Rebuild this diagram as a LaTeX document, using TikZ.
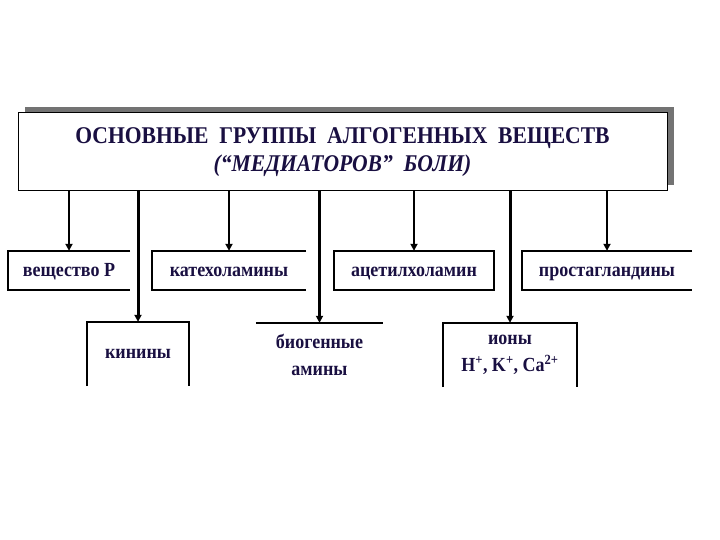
\documentclass[tikz,border=0pt]{standalone}
\usepackage{fontspec}
\setmainfont[FakeStretch=0.9]{Liberation Serif}
\usetikzlibrary{arrows.meta}
\definecolor{ink}{RGB}{25,15,65}

\begin{document}
\begin{tikzpicture}[x=1pt,y=-1pt,
  lbl/.style={font=\bfseries\fontsize{20}{27}\selectfont, text=ink, align=center},
  row/.style={lbl, text height=15pt, text depth=4pt, minimum height=39},
  edge/.style={line width=1.5pt},
  arr/.style={line width=2pt,-{Triangle[length=7pt,width=7pt]}},
  longarr/.style={arr, line width=3pt}]
\useasboundingbox (0,0) rectangle (720,540);
% heading with its shadow
\fill[black!55] (25,107) rectangle (674,185);
\node[draw, line width=1pt, fill=white, minimum width=649, minimum height=78, inner sep=0pt,
  text=ink, align=center, font=\bfseries\fontsize{24}{28}\selectfont] (head) at (342.5,152)
  {ОСНОВНЫЕ\ \ ГРУППЫ\ \ АЛГОГЕННЫХ\ \ ВЕЩЕСТВ\\ \textit{(“МЕДИАТОРОВ”\ \ БОЛИ)}};
% first row
\node[row, minimum width=122] (subp) at (69,270.5) {вещество Р};
\node[row, minimum width=154] (cat) at (229,270.5) {катехоламины};
\node[row, minimum width=160] (ach) at (414,270.5) {ацетилхоламин};
\node[row, minimum width=170] (pg) at (607,270.5) {простагландины};
% second row
\node[lbl, minimum width=102, minimum height=64] (kin) at (138,354) {кинины};
\node[lbl, minimum width=127, minimum height=64] (bio) at (319.5,355) {биогенные\\амины};
\node[lbl, minimum width=134, minimum height=64] (ion) at (510,355)
  {ионы\\H\textsuperscript{+}, K\textsuperscript{+}, Ca\textsuperscript{2+}};
% outlines
\draw[edge] (subp.north east) -- (subp.north west) -- (subp.south west) -- (subp.south east);
\draw[edge] (cat.north east) -- (cat.north west) -- (cat.south west) -- (cat.south east);
\draw[edge] (ach.north west) rectangle (ach.south east);
\draw[edge] (pg.north east) -- (pg.north west) -- (pg.south west) -- (pg.south east);
\draw[edge] (kin.south west) -- (kin.north west) -- (kin.north east) -- (kin.south east);
\draw[edge] (bio.north west) -- (bio.north east);
\draw[edge] (ion.south west) -- (ion.north west) -- (ion.north east) -- (ion.south east);
% arrows
\foreach \n in {subp,cat,ach,pg} {\draw[arr] (head.south -| \n.north) -- (\n.north);}
\foreach \n in {kin,bio,ion} {\draw[longarr] (head.south -| \n.north) -- (\n.north);}
\end{tikzpicture}
\end{document}
